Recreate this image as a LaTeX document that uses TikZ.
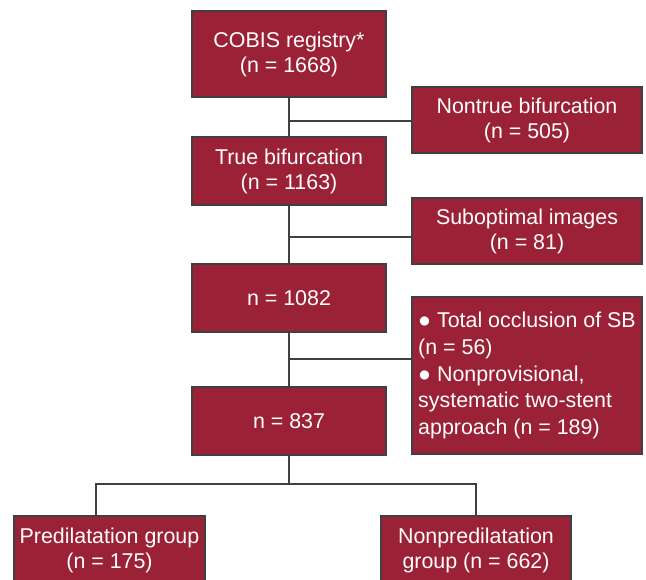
\documentclass[tikz,border=0pt]{standalone}
\usepackage{fontspec}
\setmainfont{Liberation Sans}
\definecolor{cobisred}{RGB}{155,33,54}
\definecolor{linegray}{RGB}{64,64,64}
\begin{document}
\begin{tikzpicture}[x=0.5pt,y=-0.5pt,
    box/.style={draw=linegray, line width=0.6pt, fill=cobisred, text=white,
      font=\fontsize{10.7}{12.5}\selectfont, align=center, inner sep=0pt},
    link/.style={draw=linegray, line width=0.6pt}]
  \useasboundingbox (0,0) rectangle (646,579);
  % Main column
  \node[box, minimum width=97pt, minimum height=43pt] (cobis) at (289,54)
    {COBIS registry*\\(n = 1668)};
  \node[box, minimum width=97pt, minimum height=34pt] (truebif) at (289,171)
    {True bifurcation\\(n = 1163)};
  \node[box, minimum width=97pt, minimum height=34pt] (n1082) at (289,298)
    {n = 1082};
  \node[box, minimum width=97pt, minimum height=34pt] (n837) at (289,421)
    {n = 837};
  % Excluded boxes on the right
  \node[box, minimum width=115pt, minimum height=33pt] (nontrue) at (527,120)
    {Nontrue bifurcation\\(n = 505)};
  \node[box, minimum width=115pt, minimum height=33pt] (subopt) at (527,231)
    {Suboptimal images\\(n = 81)};
  \node[box, minimum width=115pt, minimum height=78.5pt, align=left,
    font=\fontsize{10.7}{13.3}\selectfont] (excl) at (527,375.5)
    {● Total occlusion of SB\\(n = 56)\\● Nonprovisional,\\systematic two-stent\\approach (n = 189)};
  % Groups
  \node[box, minimum width=95.5pt, minimum height=34pt] (pre) at (109.5,550)
    {Predilatation group\\(n = 175)};
  \node[box, minimum width=95pt, minimum height=34pt] (nonpre) at (476,550)
    {Nonpredilatation\\group (n = 662)};
  % Stem and branches
  \coordinate (j1) at (289,121);
  \coordinate (j2) at (289,237);
  \coordinate (j3) at (289,359);
  \coordinate (split) at (289,484);
  \coordinate (lb) at (96,484);
  \draw[link] (cobis.south) -- (truebif.north);
  \draw[link] (truebif.south) -- (n1082.north);
  \draw[link] (n1082.south) -- (n837.north);
  \draw[link] (j1) -- (j1 -| nontrue.west);
  \draw[link] (j2) -- (j2 -| subopt.west);
  \draw[link] (j3) -- (j3 -| excl.west);
  \draw[link] (n837.south) -- (split);
  \draw[link] (split) -| (nonpre.north);
  \draw[link] (split) -- (lb) -- (lb |- pre.north);
\end{tikzpicture}
\end{document}
